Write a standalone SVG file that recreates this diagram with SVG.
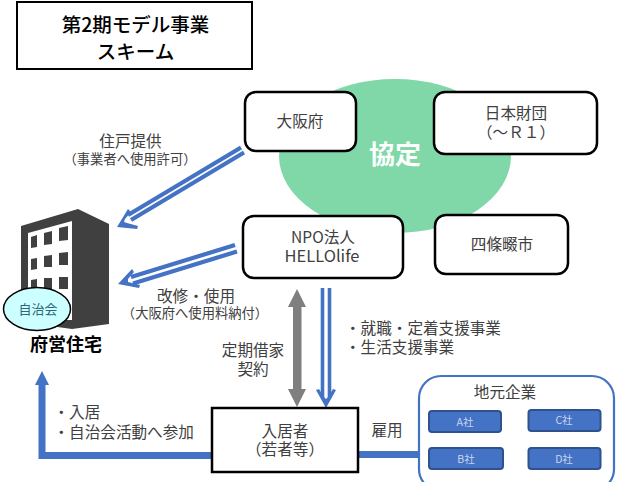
<svg xmlns="http://www.w3.org/2000/svg" width="622" height="482" viewBox="0 0 622 482">
<style>
text{font-family:"Noto Sans CJK JP","Liberation Sans",sans-serif;fill:#404040;text-anchor:middle}
.n{fill:#fff;stroke:#000;stroke-width:2.5}
.b{fill:none;stroke:#4472c4;stroke-width:3.6}
.d{fill:none;stroke:#4472c4;stroke-width:4.200}
.h{fill:#4472c4}
.c{fill:#4472c4;stroke:#2f528f;stroke-width:2}
.s{font-size:15.6px}
.t{font-size:13.300px}
.l{text-anchor:start}
.w{fill:#404040}
.co{font-size:10.500px;fill:#c9d6ee}
</style>
<rect width="622" height="482" fill="#fff"/>
<ellipse cx="395" cy="156" rx="116" ry="77" fill="#80d8a8"/>
<g id="connectors">
<path class="d" d="M241 147.500L128 215M244 152.500L131 220"/>
<path class="h" d="M117 227L128 209L131 212L125 219L124 222L127 223L138 226L137 229Z"/>
<path class="d" d="M235 245L131 277M237 251.500L133 283.500"/>
<path class="h" d="M118 284L132 269L134 272L128 279L128 282L132 283L140 285L139 288Z"/>
<rect x="293" y="305" width="8.500" height="86" fill="#7f7f7f"/>
<path d="M297 289L306 307H288ZM297 407L288 389H306Z" fill="#7f7f7f"/>
<path class="b" d="M322.500 288V398M329.500 288V398"/>
<path class="h" d="M326 408L316 390L319 389L324 397L326 399L328 397L333 389L336 390Z"/>
<path d="M212 455.500H42V380" fill="none" stroke="#4472c4" stroke-width="7"/>
<path class="h" d="M42 371L49 385H35Z"/>
<path d="M358 454.500H420" fill="none" stroke="#4472c4" stroke-width="7"/>
</g>
<g id="title"><rect x="17" y="2" width="235" height="67" fill="#fff" stroke="#000" stroke-width="2"/>
<text font-size="19.500" font-weight="500" style="fill:#000"><tspan x="135.500" y="32">第2期モデル事業</tspan><tspan x="135.500" y="59">スキーム</tspan></text></g>
<g id="osaka"><rect class="n" x="245" y="92" width="111" height="59" rx="11"/><text class="s" x="300" y="127">大阪府</text></g>
<g id="nippon"><rect class="n" x="434" y="92" width="163" height="62" rx="11"/><text class="s"><tspan x="516" y="119">日本財団</tspan><tspan x="516" y="138">（～Ｒ１）</tspan></text></g>
<g id="kyotei"><text x="395" y="164" font-size="26" font-weight="700" style="fill:#fff">協定</text></g>
<g id="npo"><rect class="n" x="243" y="216" width="160" height="62" rx="11"/><text class="s"><tspan x="323" y="243">NPO法人</tspan><tspan x="322" y="262" style="font-size:16.500px">HELLOlife</tspan></text></g>
<g id="shijo"><rect class="n" x="435" y="215" width="133" height="59" rx="11"/><text class="s" x="502" y="250">四條畷市</text></g>
<g id="housing">
<path class="w" d="M21 226L78 209L109 224V324L72 329L21 322Z"/>
<path fill="#fff" d="M28 233L72 221V320L28 320Z"/>
<g class="w"><path d="M31 237L37 235V247L31 248ZM44 233L52 231V244L44 245ZM59 228L68 226V240L59 241ZM31 259L37 258V269L31 270ZM44 256L52 255V267L44 267ZM59 253L68 252V265L59 265ZM31 280L37 279V288L31 288ZM44 278L52 278V290L44 290ZM59 277L68 277V289L59 289Z"/></g>
<text x="66" y="351" font-size="18" font-weight="700" style="fill:#000">府営住宅</text>
</g>
<g id="jichikai"><ellipse cx="37" cy="309" rx="33.500" ry="21.500" fill="#ccffff" stroke="#000" stroke-width="1.500"/><text x="38" y="314" font-size="13" style="fill:#31667a">自治会</text></g>
<g id="resident"><rect x="212" y="408" width="146" height="64" fill="#fff" stroke="#000" stroke-width="2.500"/><text class="s"><tspan x="285" y="436.500">入居者</tspan><tspan x="285" y="455">（若者等）</tspan></text></g>
<g id="companies"><rect x="419" y="376" width="195" height="115" rx="22" fill="#fff" stroke="#4472c4" stroke-width="2.200"/><text class="s" x="505" y="397.500">地元企業</text>
<g id="a"><rect class="c" x="429" y="411" width="72" height="21" rx="3"/><text class="co" x="465" y="426">A社</text></g>
<g id="c"><rect class="c" x="528.500" y="410" width="72" height="21" rx="3"/><text class="co" x="564" y="424">C社</text></g>
<g id="b"><rect class="c" x="429" y="448" width="74" height="21" rx="3"/><text class="co" x="466" y="463">B社</text></g>
<g id="d"><rect class="c" x="528.500" y="448" width="72" height="21" rx="3"/><text class="co" x="564" y="463">D社</text></g></g>
<g id="labels">
<text><tspan class="s" x="130.500" y="147">住戸提供</tspan><tspan class="t" x="130" y="164">（事業者へ使用許可）</tspan></text>
<text><tspan class="s" x="196" y="301.500">改修・使用</tspan><tspan class="t" x="195" y="318">（大阪府へ使用料納付）</tspan></text>
<text class="s"><tspan x="253" y="355.500">定期借家</tspan><tspan x="253" y="374.500">契約</tspan></text>
<text class="s l"><tspan x="345" y="334">・就職・定着支援事業</tspan><tspan x="345" y="353">・生活支援事業</tspan></text>
<text class="s" x="387" y="435.500">雇用</text>
<text class="s l"><tspan x="53.500" y="417.500">・入居</tspan><tspan x="53.500" y="437.500">・自治会活動へ参加</tspan></text>
</g>
</svg>
